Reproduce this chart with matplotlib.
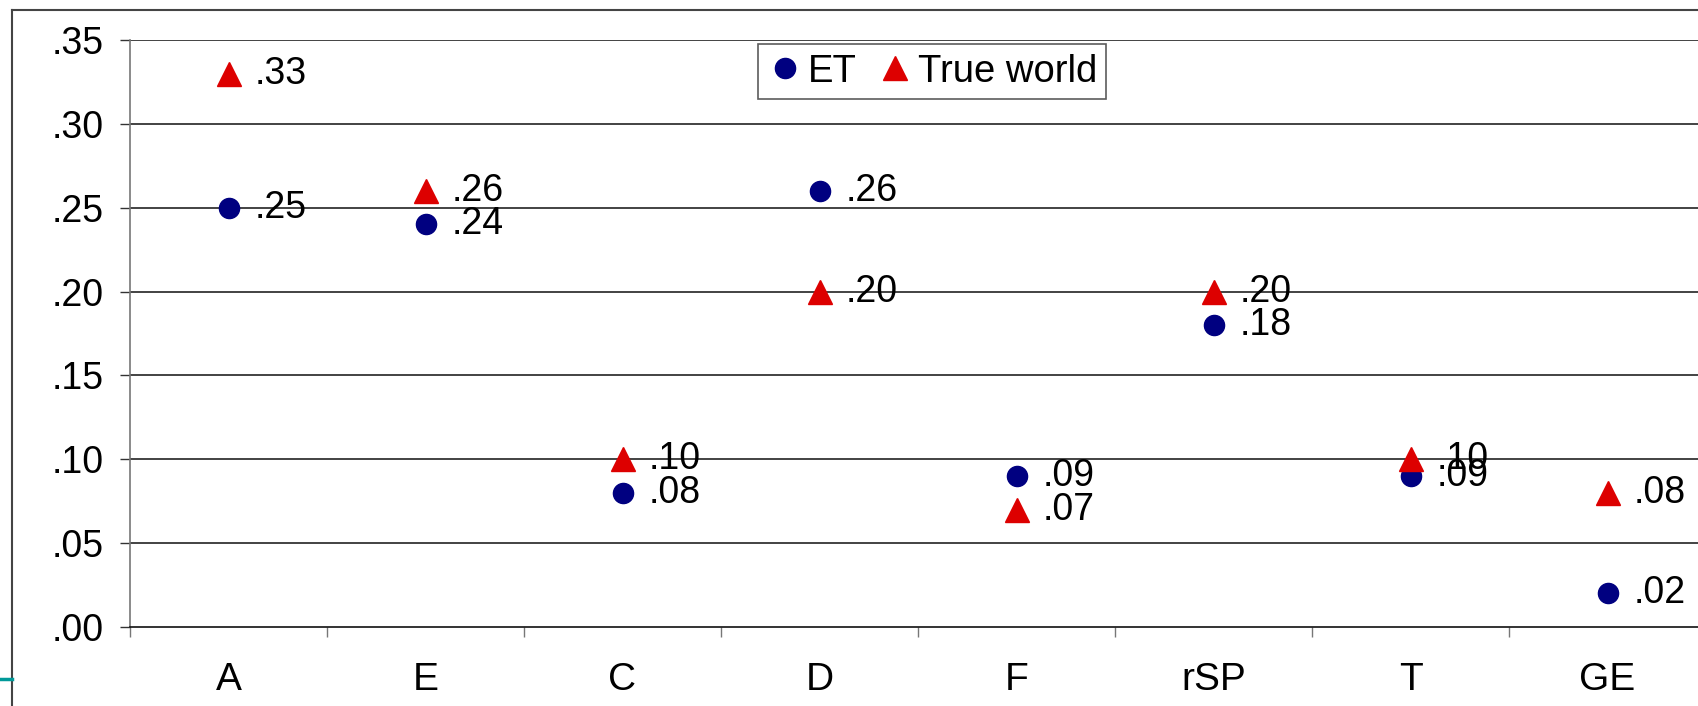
import matplotlib
matplotlib.use("Agg")
import matplotlib.pyplot as plt
from matplotlib.lines import Line2D
import numpy as np

categories = ["A", "E", "C", "D", "F", "rSP", "T", "GE"]
et_values = [0.25, 0.24, 0.08, 0.26, 0.09, 0.18, 0.09, 0.02]
true_values = [0.33, 0.26, 0.10, 0.20, 0.07, 0.20, 0.10, 0.08]
yticks = [0.00, 0.05, 0.10, 0.15, 0.20, 0.25, 0.30, 0.35]

plt.rcParams['font.family'] = ['Liberation Sans', 'DejaVu Sans']

W, H = 1698, 706
fig = plt.figure(figsize=(W / 100, H / 100), dpi=100)

# outer frame and teal accent
fig.add_artist(Line2D([12 / W, 12 / W], [0, 1 - 10 / H], color="#444444", lw=1.5, transform=fig.transFigure))
fig.add_artist(Line2D([12 / W, 1], [1 - 10 / H, 1 - 10 / H], color="#444444", lw=1.5, transform=fig.transFigure))
fig.add_artist(Line2D([0, 12 / W], [1 - 679 / H, 1 - 679 / H], color="#009999", lw=2.5, transform=fig.transFigure))

left, right, top, bottom = 130, 1706, 40, 627
ax = fig.add_axes([left / W, 1 - bottom / H, (right - left) / W, (bottom - top) / H])

x = np.arange(len(categories))
ax.set_xlim(-0.5, len(categories) - 0.5)
ax.set_ylim(0, 0.35)

for yv in yticks[1:]:
    ax.axhline(yv, color="#222222", lw=1.2, zorder=1)

et_color = "#000080"
tw_color = "#DD0000"
ax.plot(x, et_values, linestyle="none", marker="o", markersize=14.5, color=et_color, label="ET", zorder=3)
ax.plot(x, true_values, linestyle="none", marker="^", markersize=17, color=tw_color, label="True world", zorder=3)

for xi, v in zip(x, et_values):
    ax.annotate(f"{v:.2f}"[1:], (xi, v), xytext=(19, 0), textcoords="offset points",
                va="center", ha="left", fontsize=27, zorder=4)
for xi, v in zip(x, true_values):
    ax.annotate(f"{v:.2f}"[1:], (xi, v), xytext=(19, 0), textcoords="offset points",
                va="center", ha="left", fontsize=27, zorder=4)

ax.set_yticks(yticks)
ax.set_yticklabels([f"{t:.2f}"[1:] for t in yticks], fontsize=27)
ax.tick_params(axis="y", length=7, width=1, color="#333333", pad=12)

ax.set_xticks(x)
ax.set_xticklabels(categories, fontsize=28)
ax.set_xticks(np.arange(-0.5, len(categories), 1.0), minor=True)
ax.tick_params(axis="x", which="major", length=0, pad=25)
ax.tick_params(axis="x", which="minor", length=7, width=1, color="#777777")

for s in ["top", "right"]:
    ax.spines[s].set_visible(False)
ax.spines["left"].set_color("#777777")
ax.spines["left"].set_linewidth(1.2)
ax.spines["bottom"].set_color("#111111")
ax.spines["bottom"].set_linewidth(1.2)

leg = ax.legend(loc="upper center", bbox_to_anchor=(0.509, 0.993), ncol=2, fontsize=27.5,
                frameon=True, fancybox=False, shadow=False, handletextpad=0.15,
                columnspacing=0.55, handlelength=0.9, borderpad=0.25, borderaxespad=0)
leg.get_frame().set_edgecolor("#333333")
leg.get_frame().set_linewidth(1.2)

fig.savefig("out.png", dpi=100)
